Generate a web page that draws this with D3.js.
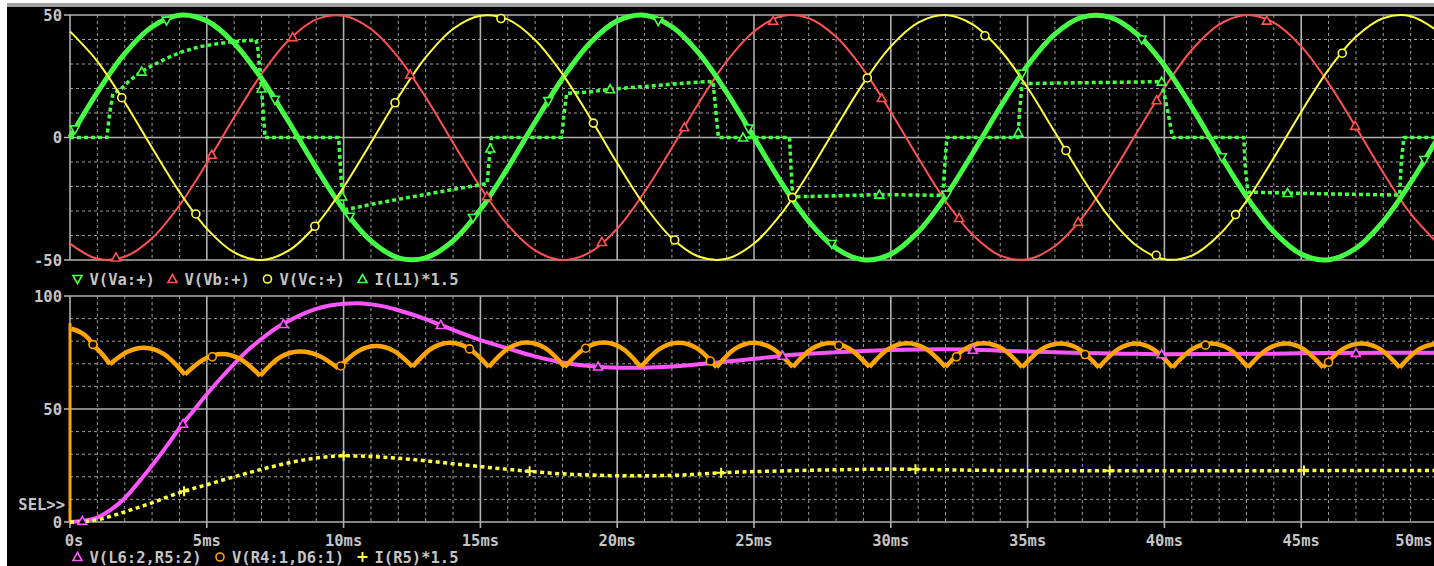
<!DOCTYPE html>
<html>
<head>
<meta charset="utf-8">
<script src="https://cdn.jsdelivr.net/npm/d3@7"></script>
<style>
  body { margin: 0; background: #fff; }
  svg { display: block; }
</style>
</head>
<body>
<svg width="1434" height="566"></svg>
<script>

// axes
const xTicks = [0, 5, 10, 15, 20, 25, 30, 35, 40, 45, 50]
const xTickLabels = ["0s", "5ms", "10ms", "15ms", "20ms", "25ms", "30ms", "35ms", "40ms", "45ms", "50ms"]
const topTicks = [-50, 0, 50]
const bottomTicks = [0, 50, 100]

// top plot, phase voltages read every 1 ms
const sineT = d3.range(0, 51)
const vaV = [0, 18.4, 34.2, 45.2, 49.9, 47.6, 38.5, 24.1, 6.3, -12.4, -29.4,
  -42.2, -49.1, -49.1, -42.2, -29.4, -12.4, 6.3, 24.1, 38.5, 47.6,
  49.9, 45.2, 34.2, 18.4, 0, -18.4, -34.2, -45.2, -49.9, -47.6,
  -38.5, -24.1, -6.3, 12.4, 29.4, 42.2, 49.1, 49.1, 42.2, 29.4,
  12.4, -6.3, -24.1, -38.5, -47.6, -49.9, -45.2, -34.2, -18.4, 0]
const vbV = [-43.3, -49.5, -48.7, -41.1, -27.7, -10.4, 8.3, 25.9, 39.8, 48.2, 49.7,
  44.3, 32.7, 16.4, -2.1, -20.3, -35.7, -46.1, -50.0, -46.9, -37.2,
  -22.2, -4.2, 14.4, 31.1, 43.3, 49.5, 48.7, 41.1, 27.7, 10.4,
  -8.3, -25.9, -39.8, -48.2, -49.7, -44.3, -32.7, -16.4, 2.1, 20.3,
  35.7, 46.1, 50.0, 46.9, 37.2, 22.2, 4.2, -14.4, -31.1, -43.3]
const vcV = [43.3, 31.1, 14.4, -4.2, -22.2, -37.2, -46.9, -50.0, -46.1, -35.7, -20.3,
  -2.1, 16.4, 32.7, 44.3, 49.7, 48.2, 39.8, 25.9, 8.3, -10.4,
  -27.7, -41.1, -48.7, -49.5, -43.3, -31.1, -14.4, 4.2, 22.2, 37.2,
  46.9, 50.0, 46.1, 35.7, 20.3, 2.1, -16.4, -32.7, -44.3, -49.7,
  -48.2, -39.8, -25.9, -8.3, 10.4, 27.7, 41.1, 48.7, 49.5, 43.3]

// I(L1)*1.5
const ilT = [0, 1.35, 1.45, 1.57, 1.83, 2.2, 2.62, 3.0, 3.53, 4.1, 4.75, 5.4, 5.97, 6.5, 6.8, 6.87, 7.0, 7.13,
  9.82, 9.9, 9.98, 10.5, 11, 12, 13, 14, 15, 15.25, 15.32, 15.4,
  17.97, 18.05, 18.15, 19, 19.74, 21, 22, 23, 23.5, 23.57, 23.7,
  26.3, 26.35, 26.42, 28, 29.58, 31, 31.9, 31.97, 32.05,
  34.65, 34.7, 34.8, 36, 38, 39.9, 40.1, 40.3,
  42.9, 42.95, 43.05, 45, 47, 48.6, 48.65, 48.75, 50]
const ilV = [0, 0, 10, 18, 19.4, 23.5, 26.9, 29.3, 32.3, 35, 37.1, 38.3, 39.1, 39.6, 39.8, 36, 20, 0,
  0, -15, -29.5, -28.5, -27.3, -25.2, -23.2, -21.2, -19.3, -18.8, -9, 0,
  0, 9, 18, 18.6, 19.7, 20.8, 21.8, 22.6, 22.9, 15, 0,
  0, -12, -24.2, -23.8, -23.3, -23.5, -23.6, -12, 0,
  0, 10, 22, 22.2, 22.5, 22.8, 12, 0,
  0, -11, -22.3, -22.8, -23.2, -23.5, -11, 0, 0]

// marker times
const vaMarkT = [0.18, 3.53, 7.49, 10.23, 14.73, 17.48, 21.5, 24.8, 27.84, 32.04, 34.8, 39.17, 42.1, 49.5]
const vbMarkT = [1.68, 5.18, 8.14, 12.43, 15.24, 19.44, 22.45, 25.7, 29.67, 32.5, 36.85, 39.72, 43.74, 46.97]
const vcMarkT = [1.89, 4.6, 8.95, 11.88, 15.75, 19.13, 22.1, 26.4, 29.14, 33.44, 36.4, 39.7, 42.6, 46.5]
const ilMarkT = [2.62, 7.0, 9.95, 15.36, 19.74, 24.6, 29.58, 34.66, 39.9, 44.5]

// bottom plot
const magT = [0, 0.45, 1, 1.5, 2, 2.5, 3, 3.5, 4, 4.5, 5, 5.5, 6, 6.5, 7, 7.5, 8, 8.5, 9, 9.5,
  10, 10.5, 11, 11.5, 12, 13, 13.55, 14, 15, 16, 17, 18, 19, 20, 21, 22, 23, 24, 25,
  26, 27, 28, 29, 30, 31, 32, 33, 34, 35, 36, 37, 38, 39, 40, 42, 44, 46, 48, 50]
const magV = [0, 0.5, 2, 5.5, 10.5, 17.5, 25, 33, 41.5, 49, 56.5, 63.5, 70, 76, 81, 85.5, 89, 92, 94.3, 95.8,
  96.6, 96.8, 96.3, 95.3, 93.7, 89.8, 87.2, 85, 80.5, 76.8, 73.3, 70.6, 69, 68.3, 68.3, 68.8, 69.8, 71, 72.2,
  73.5, 74.4, 75.1, 75.7, 76.1, 76.3, 76.4, 76.2, 75.8, 75.4, 75.1, 74.8, 74.6, 74.4, 74.2, 74.3, 74.5, 74.8, 74.9, 74.9]

const orangeStartT = [0, 0]
const orangeStartV = [0, 88]
const orangeT = [0.05, 0.66, 0.84, 1.2, 1.46,
  2.1, 2.7, 3.45, 4.2,
  4.9, 5.55, 6.25, 6.95,
  7.65, 8.4, 9.1, 9.8,
  10.5, 11.2, 11.85, 12.52,
  13.2, 13.9, 14.6, 15.31,
  16.0, 16.7, 17.4, 18.08,
  18.8, 19.5, 20.2, 20.86,
  21.55, 22.25, 22.95, 23.63,
  24.3, 25.0, 25.7, 26.42,
  27.1, 27.8, 28.5, 29.22,
  29.9, 30.6, 31.3, 32.0,
  32.7, 33.4, 34.1, 34.8,
  35.5, 36.2, 36.9, 37.6,
  38.3, 38.95, 39.6, 40.3,
  41.0, 41.7, 42.4, 43.05,
  43.75, 44.45, 45.1, 45.8,
  46.5, 47.2, 47.9, 48.6,
  49.3, 50.0]
const orangeV = [85.5, 81.4, 78.5, 74, 69.8,
  75.3, 77.1, 74.2, 65.3,
  72.05, 74.3, 71.9, 64.7,
  72.7, 75.4, 73.55, 68.0,
  75.4, 77.9, 75.6, 68.7,
  76.65, 79.3, 76.6, 68.6,
  76.7, 79.4, 76.7, 68.6,
  76.7, 79.4, 76.7, 68.6,
  76.6, 79.3, 76.6, 68.5,
  76.6, 79.3, 76.6, 68.6,
  76.55, 79.2, 76.55, 68.6,
  76.5, 79.1, 76.5, 68.6,
  76.5, 79.1, 76.5, 68.5,
  76.4, 79.0, 76.4, 68.4,
  76.4, 79.0, 76.4, 68.4,
  76.4, 79.0, 76.4, 68.4,
  76.4, 79.0, 76.4, 68.4,
  76.4, 79.0, 76.4, 68.4,
  76.4, 79.0]

const irT = [0, 0.5, 1, 2, 3, 4, 5, 6, 7, 8, 9, 10, 11, 12, 13, 14, 15, 16, 17, 18, 19, 20,
  21, 22, 23, 24, 25, 26, 27, 28, 29, 30, 31, 32, 33, 34, 36, 38, 40, 42, 44, 46, 48, 50]
const irV = [0, 0.2, 1, 4.5, 8.5, 13, 16.5, 20, 23.3, 26.2, 28.3, 29.3, 29.0, 28.2, 27.1, 25.8, 24.5, 23.3, 22.2, 21.3, 20.8, 20.5,
  20.5, 20.6, 21.2, 21.9, 22.3, 22.6, 22.9, 23.1, 23.3, 23.4, 23.3, 23.1, 22.9, 22.8, 22.7, 22.7, 22.7, 22.7, 22.7, 22.8, 22.8, 22.8]

const magMarkT = [0.45, 4.13, 7.8, 13.55, 19.3, 26.05, 33.0, 39.9, 47.0]
const orangeMarkT = [0.84, 5.2, 9.9, 14.6, 18.85, 23.4, 28.1, 32.4, 37.1, 41.5, 46.0]
const irMarkT = [4.17, 10.0, 16.8, 23.8, 30.9, 38.0, 45.1]

const topLegend = ["V(Va:+)", "V(Vb:+)", "V(Vc:+)", "I(L1)*1.5"]
const bottomLegend = ["V(L6:2,R5:2)", "V(R4:1,D6:1)", "I(R5)*1.5"]

const textColor = "#c4c4c4"
const gridColor = "#9c9c9c"
const font = "DejaVu Sans Mono"

const svg = d3.select("svg")

svg.append("rect")
    .attr("x", 7).attr("y", 7)
    .attr("width", 1434 - 7).attr("height", 566 - 7)
    .attr("fill", "#000")
svg.append("rect")
    .attr("x", 7).attr("y", 3)
    .attr("width", 1434 - 7).attr("height", 4)
    .attr("fill", "#a0a0a0")

const x = d3.scaleLinear().domain([0, 50]).range([70, 1438])
const yTop = d3.scaleLinear().domain([-50, 50]).range([260, 15])
const yBot = d3.scaleLinear().domain([0, 100]).range([522, 296])

function valueAt(ts, vs, t) {
    const i = d3.bisectLeft(ts, t)
    if (i <= 0) return vs[0]
    if (i >= ts.length) return vs[vs.length - 1]
    const k = (t - ts[i - 1]) / (ts[i] - ts[i - 1])
    return vs[i - 1] + k * (vs[i] - vs[i - 1])
}

function drawGrid(y, lo, hi, solidVals) {
    const g = svg.append("g")
    const minorT = d3.range(1, 50).filter(t => t % 5 != 0)
    g.selectAll(".vminor").data(minorT).join("line")
        .attr("x1", d => x(d)).attr("x2", d => x(d))
        .attr("y1", y(hi)).attr("y2", y(lo))
        .attr("stroke", gridColor).attr("stroke-width", 1)
        .attr("stroke-dasharray", "3,3")
    const minorV = d3.range(lo + 10, hi, 10).filter(v => !solidVals.includes(v))
    g.selectAll(".hminor").data(minorV).join("line")
        .attr("x1", x(0)).attr("x2", 1434)
        .attr("y1", d => y(d)).attr("y2", d => y(d))
        .attr("stroke", gridColor).attr("stroke-width", 1)
        .attr("stroke-dasharray", "3,3")
    g.selectAll(".vmajor").data(xTicks.slice(0, -1)).join("line")
        .attr("x1", d => x(d)).attr("x2", d => x(d))
        .attr("y1", y(hi)).attr("y2", y(lo))
        .attr("stroke", "#b0b0b0").attr("stroke-width", 1.6)
    g.selectAll(".hmajor").data(solidVals).join("line")
        .attr("x1", x(0)).attr("x2", 1434)
        .attr("y1", d => y(d)).attr("y2", d => y(d))
        .attr("stroke", "#b0b0b0").attr("stroke-width", 1.6)
    // y ticks
    g.selectAll(".ytick").data(solidVals).join("line")
        .attr("x1", x(0) - 6).attr("x2", x(0))
        .attr("y1", d => y(d)).attr("y2", d => y(d))
        .attr("stroke", "#b0b0b0").attr("stroke-width", 1.6)
    g.selectAll(".ylab").data(solidVals).join("text")
        .attr("x", x(0) - 8)
        .attr("y", d => y(d) + 5.5)
        .attr("text-anchor", "end")
        .attr("font-family", font).attr("font-weight", "bold").attr("font-size", "15.5px")
        .attr("fill", textColor)
        .text(d => d)
}

drawGrid(yTop, -50, 50, topTicks)
drawGrid(yBot, 0, 100, bottomTicks)

// x ticks + labels under bottom plot
svg.append("g").selectAll("line").data(xTicks).join("line")
    .attr("x1", d => x(d)).attr("x2", d => x(d))
    .attr("y1", yBot(0)).attr("y2", yBot(0) + 6)
    .attr("stroke", "#b0b0b0").attr("stroke-width", 1.6)
svg.append("g").selectAll("text").data(xTicks).join("text")
    .attr("x", (d, i) => x(d) + (i == 0 ? 4 : 0) - (i == xTicks.length - 1 ? 24 : 0))
    .attr("y", 546)
    .attr("text-anchor", "middle")
    .attr("font-family", font).attr("font-weight", "bold").attr("font-size", "15.5px")
    .attr("fill", textColor)
    .text((d, i) => xTickLabels[i])

svg.append("text")
    .attr("x", 65).attr("y", 510)
    .attr("text-anchor", "end")
    .attr("font-family", font).attr("font-weight", "bold").attr("font-size", "15.5px")
    .attr("fill", textColor)
    .text("SEL>>")

// markers
function markerPath(type, cx, cy) {
    if (type == "up") return `M${cx - 4.5},${cy + 3.5}L${cx},${cy - 4.5}L${cx + 4.5},${cy + 3.5}Z`
    if (type == "down") return `M${cx - 4.5},${cy - 3.5}L${cx + 4.5},${cy - 3.5}L${cx},${cy + 4.5}Z`
    if (type == "plus") return `M${cx - 5},${cy}L${cx + 5},${cy}M${cx},${cy - 5}L${cx},${cy + 5}`
    return `M${cx - 4},${cy}A4,4 0 1,0 ${cx + 4},${cy}A4,4 0 1,0 ${cx - 4},${cy}Z`
}

function drawMarkers(ts, vs, y, times, type, color) {
    svg.append("g").selectAll("path").data(times).join("path")
        .attr("d", t => markerPath(type, x(t), y(valueAt(ts, vs, t))))
        .attr("fill", type == "plus" ? "none" : "#000")
        .attr("stroke", color)
        .attr("stroke-width", type == "plus" ? 2 : 1.6)
}

function drawTrace(ts, vs, y, color, w, dash, curve) {
    const line = d3.line()
        .x(d => x(d[0]))
        .y(d => y(d[1]))
        .curve(curve)
    svg.append("path")
        .datum(ts.map((t, i) => [t, vs[i]]))
        .attr("d", line)
        .attr("fill", "none")
        .attr("stroke", color)
        .attr("stroke-width", w)
        .attr("stroke-dasharray", dash)
        .attr("stroke-linejoin", "round")
}

const green = "#44ff44", red = "#ff5252", yellow = "#ffff3a"
const magenta = "#ff55ff", orange = "#ffa500", yellow2 = "#ffff44"

// top traces
drawTrace(sineT, vbV, yTop, red, 2, null, d3.curveCatmullRom)
drawTrace(sineT, vaV, yTop, green, 5, null, d3.curveCatmullRom)
drawTrace(ilT, ilV, yTop, green, 3.5, "4,3", d3.curveLinear)
drawTrace(sineT, vcV, yTop, yellow, 2, null, d3.curveCatmullRom)

drawMarkers(sineT, vbV, yTop, vbMarkT, "up", red)
drawMarkers(sineT, vaV, yTop, vaMarkT, "down", green)
drawMarkers(ilT, ilV, yTop, ilMarkT, "up", green)
drawMarkers(sineT, vcV, yTop, vcMarkT, "circle", yellow)

// bottom traces
drawTrace(magT, magV, yBot, magenta, 4, null, d3.curveMonotoneX)
drawTrace(orangeStartT, orangeStartV, yBot, orange, 3, null, d3.curveLinear)
// split rectifier ripple at each minimum so the cusps stay sharp
const cuts = [0]
orangeV.forEach((v, i) => {
    if (i > 0 && i < orangeV.length - 1 && v < orangeV[i - 1] && v < orangeV[i + 1]) cuts.push(i)
})
cuts.push(orangeV.length - 1)
for (let k = 0; k < cuts.length - 1; k++) {
    const a = cuts[k], b = cuts[k + 1] + 1
    drawTrace(orangeT.slice(a, b), orangeV.slice(a, b), yBot, orange, 4.5, null, d3.curveMonotoneX)
}
drawTrace(irT, irV, yBot, yellow2, 3.5, "4,3.5", d3.curveMonotoneX)

drawMarkers(magT, magV, yBot, magMarkT, "up", magenta)
drawMarkers(orangeT, orangeV, yBot, orangeMarkT, "circle", orange)
drawMarkers(irT, irV, yBot, irMarkT, "plus", yellow2)

// legends
function drawLegend(items, types, colors, starts, ly) {
    items.forEach((name, i) => {
        svg.append("path")
            .attr("d", markerPath(types[i], starts[i], ly))
            .attr("fill", types[i] == "plus" ? "none" : "#000")
            .attr("stroke", colors[i])
            .attr("stroke-width", types[i] == "plus" ? 2 : 1.6)
        svg.append("text")
            .attr("x", starts[i] + 12)
            .attr("y", ly + 5.5)
            .attr("font-family", font).attr("font-weight", "bold").attr("font-size", "15.5px")
            .attr("fill", textColor)
            .text(name)
    })
}
drawLegend(topLegend, ["down", "up", "circle", "up"], [green, red, yellow, green], [77.5, 172.5, 267.5, 362.5], 279)
drawLegend(bottomLegend, ["up", "circle", "plus"], [magenta, orange, yellow2], [77.5, 220, 362.5], 557)

</script>
</body>
</html>
